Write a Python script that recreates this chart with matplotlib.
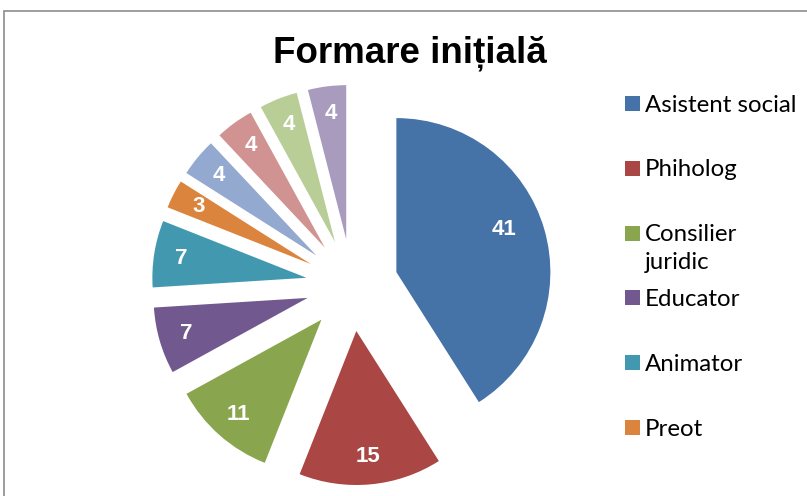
import matplotlib.pyplot as plt
from matplotlib.patches import Rectangle

# data
values = [41, 15, 11, 7, 7, 3, 4, 4, 4, 4]
colors = ['#4572A7', '#AA4643', '#89A54E', '#71588F', '#4198AF',
          '#DB843D', '#93A9CF', '#D19392', '#B9CD96', '#A99BBD']
legend_labels = ['Asistent social', 'Phiholog', 'Consilier\njuridic',
                 'Educator', 'Animator', 'Preot']

W, H = 807, 496
fig = plt.figure(figsize=(W / 100, H / 100), dpi=100)
ax = fig.add_axes([0, 0, 1, 1])

# pie centre and radius in pixels (from top-left)
R = 154
cx, cy = 352, 285

wedges, texts = ax.pie(values, colors=colors, startangle=90, counterclock=False,
                       explode=[0.3] * len(values),
                       labels=[str(v) for v in values], labeldistance=0.82,
                       wedgeprops=dict(linewidth=0))
for t in texts:
    t.set_ha('center')
    t.set_color('white')
    t.set_fontfamily('Liberation Sans')
    t.set_fontweight('bold')
    t.set_fontsize(16)

# Excel puts the big slice's label a bit higher and closer in
bx, by = wedges[0].center
tx, ty = texts[0].get_position()
texts[0].set_position((bx + (tx - bx) * 0.89, by + (ty - by) * 0.89 + 0.07))

ax.set_xlim(-cx / R, (W - cx) / R)
ax.set_ylim(-(H - cy) / R, cy / R)
ax.set_aspect('auto')
ax.axis('off')

# chart frame
fig.add_artist(Rectangle((4 / W, -0.1), 1.1, (1 - 11 / H) + 0.1,
                         transform=fig.transFigure, fill=False,
                         edgecolor='#8c8c8c', lw=1.2))

fig.text(410 / W, 1 - 53 / H, 'Formare inițială', ha='center', va='center',
         fontsize=26.5, fontweight='bold', family='Liberation Sans')

# legend (Excel cuts it off after six entries)
for i, lab in enumerate(legend_labels):
    yc = 103.5 + i * 64.8
    fig.add_artist(Rectangle((625 / W, 1 - (yc + 7.5) / H), 15 / W, 15 / H,
                             transform=fig.transFigure, color=colors[i], lw=0))
    for k, line in enumerate(lab.split('\n')):
        fig.text(645 / W, 1 - (yc + 8 + k * 28) / H, line, ha='left',
                 va='baseline', fontsize=17.3, family='Lato', color='black')

fig.savefig('out.png', dpi=100)
